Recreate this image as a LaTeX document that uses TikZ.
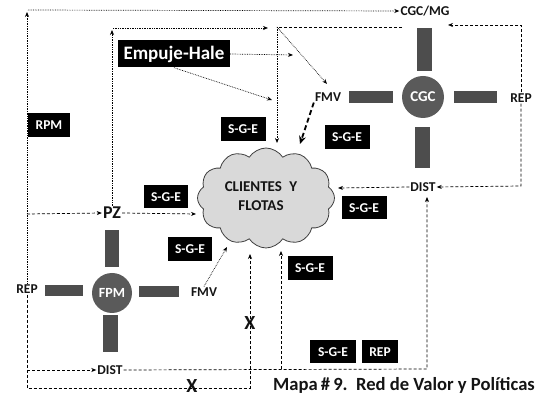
\documentclass[tikz,border=0pt]{standalone}
\usepackage{fontspec}
\setmainfont{Carlito}
\usetikzlibrary{shapes.symbols,arrows.meta}
\definecolor{barc}{HTML}{4D4D4D}
\definecolor{hubc}{HTML}{5A5A5A}
\definecolor{puffc}{HTML}{D9D9D9}
\definecolor{ink}{HTML}{141414}
\begin{document}
\begin{tikzpicture}[x=1pt,y=-1pt,
  >={Stealth[length=5pt,width=4pt]},
  lbl/.style={font=\bfseries\fontsize{13.5}{15}\selectfont, text=ink, inner sep=1pt},
  big/.style={font=\bfseries\fontsize{18}{20}\selectfont, text=ink, inner sep=1pt},
  tag/.style={fill=black, text=white, font=\bfseries\fontsize{13.5}{15}\selectfont,
              minimum height=24pt, inner sep=0pt},
  hub/.style={circle, fill=hubc, minimum size=42pt, inner sep=0pt, text=white,
              font=\bfseries\fontsize{15}{17}\selectfont},
  barr/.style={fill=barc, draw=none},
  dotl/.style={densely dotted, line width=0.7pt, draw=black},
  dshl/.style={dash pattern=on 3pt off 2pt, line width=0.7pt, draw=black},
  thick dsh/.style={dash pattern=on 5pt off 3pt, line width=1.8pt, draw=black}]
\useasboundingbox (0,0) rectangle (542,398);

% --- cloud in the middle
\node[cloud, cloud puffs=12, cloud puff arc=115, aspect=1.45, draw=black!75, line width=0.8pt,
      fill=puffc, minimum width=137pt, minimum height=100pt, inner sep=0pt] (cloud) at (266,198) {};
\node[lbl, align=center, font=\bfseries\fontsize{15}{19}\selectfont] (cltxt) at (261,196) {CLIENTES\enspace Y\\FLOTAS};

% --- CGC cross
\fill[barr] (417,28) rectangle (432,71);
\fill[barr] (415,127) rectangle (430,168);
\fill[barr] (349,91) rectangle (393,103);
\fill[barr] (454,91) rectangle (497,103);
\node[hub] (cgc) at (423,97) {CGC};

% --- FPM cross
\fill[barr] (105,230) rectangle (119,267);
\fill[barr] (103,315) rectangle (118,352);
\fill[barr] (45,285) rectangle (83,296);
\fill[barr] (139,286) rectangle (179,297);
\node[hub, minimum size=40pt, font=\bfseries\fontsize{14}{16}\selectfont] (fpm) at (112,293) {FPM};

% --- labels
\node[lbl] (cgcmg) at (425,11) {CGC/MG};
\node[lbl] (fmvR) at (328,97) {FMV};
\node[lbl] (repR) at (521,98) {REP};
\node[lbl] (distR) at (423,187) {DIST};
\node[big] (pz) at (112,213) {PZ};
\node[lbl] (repL) at (27,289) {REP};
\node[lbl] (fmvL) at (204,292) {FMV};
\node[lbl] (distL) at (110,370) {DIST};
\node[big, font=\bfseries\fontsize{20}{22}\selectfont] (xa) at (250,323) {X};
\node[big, font=\bfseries\fontsize{20}{22}\selectfont] (xb) at (192,386) {X};

% --- black tags
\node[tag, font=\bfseries\fontsize{19}{21}\selectfont, minimum width=112pt, minimum height=27pt] (eh) at (174,54) {Empuje-Hale};
\node[tag, minimum width=42pt] (rpm) at (49,125) {RPM};
\node[tag, minimum width=45pt] (sge1) at (243,129) {S-G-E};
\node[tag, minimum width=45pt] (sge2) at (347,137) {S-G-E};
\node[tag, minimum width=44pt, minimum height=23pt] (sge3) at (166,197) {S-G-E};
\node[tag, minimum width=45pt, minimum height=23pt] (sge4) at (364,208) {S-G-E};
\node[tag, minimum width=44pt] (sge5) at (190,249) {S-G-E};
\node[tag, minimum width=45pt] (sge6) at (310,268) {S-G-E};
\node[tag, minimum width=46pt, minimum height=23pt] (sge7) at (333,352) {S-G-E};
\node[tag, minimum width=36pt, minimum height=23pt] (repbox) at (380,352) {REP};

% --- caption
\node[anchor=west, inner sep=0pt, text=ink, font=\bfseries\fontsize{18.6}{21}\selectfont] (cap) at (273,385) {Mapa\,\#\,9.\ \ Red de Valor y Políticas};

% --- corner and end points
\coordinate (tl) at (27,12);
\coordinate (tls) at (28,10);
\coordinate (bl) at (27,388);
\coordinate (bx) at (250,388);
\coordinate (jpz) at (27,214);
\coordinate (jds) at (27,370);
\coordinate (dr) at (427,369);
\coordinate (drt) at (427,197);
\coordinate (jcl) at (281,369);
\coordinate (pt) at (112,30);
\coordinate (pts) at (113,28);
\coordinate (pe) at (268,28);
\coordinate (ms) at (402,27);
\coordinate (mc) at (277,27);
\coordinate (fmvtip) at (327,84);
\coordinate (rt) at (521,25);
\coordinate (re) at (448,25);
\coordinate (rb) at (521,186);
\coordinate (ehr) at (293,55);
\coordinate (ehd) at (272,100);
\coordinate (cX) at (250,254);
\coordinate (cB) at (281,251);
\coordinate (cT) at (277,143);
\coordinate (cF) at (300,144);
\coordinate (cR) at (338,188);
\coordinate (cL) at (196,214);
\coordinate (cS) at (227,247);

% --- left loop
\draw[dotl,->] (repL.north) -- (tl);
\draw[dotl,->] (tls) -- (cgcmg.west);
\draw[dshl,->] (repL.south) -- (bl) -- (bx) -- (cX);
\draw[dshl,->] (jpz) -- (pz.west);
\draw[dshl,->] (jds) -- (distL.west);
\draw[dshl,->] (distL.east) -- (dr) -- (drt);
\draw[dshl,->] (jcl) -- (cB);
\draw[dotl,->] (pz.north) -- (pt);
\draw[dotl,->] (pts) -- (pe);
\draw[dshl,->] (pz.east) -- (cL);
\draw[dotl,->] (fmvL.north) -- (cS);

% --- upper connectors
\draw[dshl] (ms) -- (mc);
\draw[dotl,->] (mc) -- (cT);
\draw[dotl,->] (mc) -- (fmvtip);
\draw[dotl,->] (eh.east) -- (ehr);
\draw[dotl,->] (eh.south) -- (ehd);

% --- CGC side
\draw[dshl,->] (repR.north) -- (rt) -- (re);
\draw[dshl,->] (repR.south) -- (rb) -- (distR.east);
\draw[dshl,->] (distR.west) -- (cR);
\draw[thick dsh,-{Stealth[length=8pt,width=7pt]}] (fmvR.south west) -- (cF);
\end{tikzpicture}
\end{document}
